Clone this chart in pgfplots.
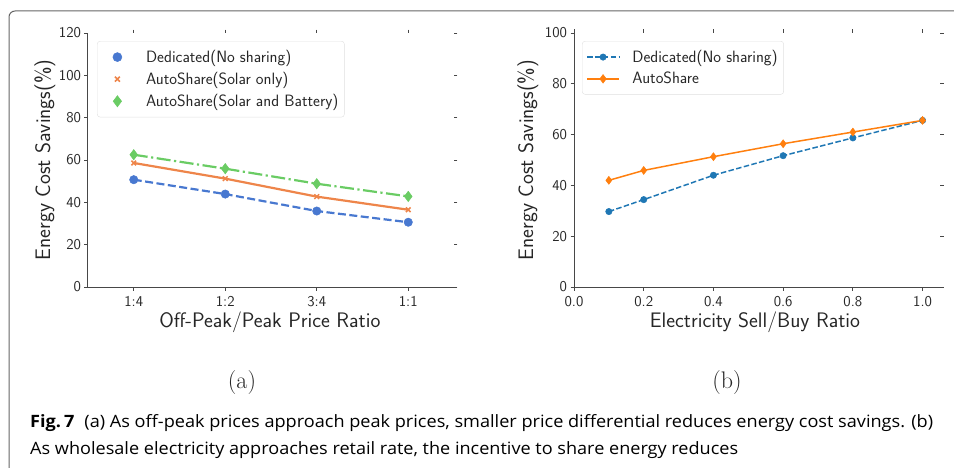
\documentclass[border=0pt]{standalone}
\usepackage{fontspec}
\usepackage{graphicx}
\usepackage{pgfplots}
\pgfplotsset{compat=1.18}
\newfontfamily\capfont{Open Sans}
\definecolor{mblue}{HTML}{4878D0}
\definecolor{morange}{HTML}{EE854A}
\definecolor{mgreen}{HTML}{6ACC64}
\definecolor{tblue}{HTML}{1F77B4}
\definecolor{torange}{HTML}{FF7F0E}
\definecolor{ink}{HTML}{262626}
\newsavebox\capA
\newsavebox\capB
\newcommand\capone{{\bfseries Fig.\,7}\hspace{0.55em}(a) As off-peak prices approach peak prices, smaller price differential reduces energy cost savings. (b)}
\newcommand\captwo{As wholesale electricity approaches retail rate, the incentive to share energy reduces}
\tikzset{lblfont/.style={font=\fontsize{21}{25}\selectfont\sffamily, text=ink}}
\pgfplotsset{
  markleg/.style={legend image code/.code={\draw[mark repeat=2, mark phase=2, ##1, #1] plot coordinates {(0pt,0pt) (16pt,0pt) (32pt,0pt)};}},
  mystyle/.style={
    scale only axis, width=366pt, height=254pt, anchor=south west,
    axis line style={draw=none},
    tick align=outside, major tick length=3.5pt,
    every tick/.style={ink!85, line width=0.8pt},
    xtick pos=both, ytick pos=both,
    xticklabel pos=lower, yticklabel pos=left,
    tick label style={font=\fontsize{15}{18}\selectfont\sffamily, text=ink},
    xticklabel style={yshift=-2pt},
    /pgf/number format/assume math mode=true,
    legend cell align=left,
    legend style={draw=black!12, rounded corners=3pt, fill=white,
      font=\fontsize{16.4}{19}\selectfont\sffamily, text=ink, anchor=north west,
      row sep=5.3pt, inner ysep=7.5pt, inner xsep=4pt, nodes={inner ysep=1.5pt},
      /tikz/every odd column/.append style={column sep=10.5pt}},
    extra description/.code={\draw[ink!85, line width=1pt] (rel axis cs:0,1) -- (rel axis cs:0,0) -- (rel axis cs:1,0);},
  }
}
\begin{document}%
\sbox\capA{\capfont\fontsize{17}{20}\selectfont\capone}%
\sbox\capB{\capfont\fontsize{17}{20}\selectfont\captwo}%
\begin{tikzpicture}[x=1pt,y=1pt]
\useasboundingbox (0,0) rectangle (954,467);
\draw[black!60, line width=1pt, rounded corners=6pt] (9,-10) -- (9,456) -- (980,456);

% (a)
\begin{axis}[mystyle, at={(88pt,180pt)},
  xmin=-0.5, xmax=3.5, ymin=0, ymax=120,
  xtick={0,1,2,3}, xticklabels={1:4,1:2,3:4,1:1},
  ytick={0,20,40,60,80,100,120},
  xlabel={Off-Peak/Peak Price Ratio},
  ylabel={Energy Cost Savings(\%)},
  every axis x label/.style={at={(axis description cs:0.497,-0.138)}, anchor=center, lblfont},
  every axis y label/.style={at={(axis description cs:-0.1175,0.5)}, rotate=90, anchor=center, lblfont},
  legend style={at={(axis description cs:0.0246,0.9685)}},
]
\addplot[mblue, line width=2.2pt, dash pattern=on 8pt off 3.5pt, mark=*, mark size=4.2pt, mark options={solid, line width=0.5pt}, forget plot]
  coordinates {(0,50.7) (1,43.9) (2,35.9) (3,30.6)};
\addplot[morange, line width=2.2pt, mark=x, mark size=3.3pt, mark options={solid, line width=1.5pt}, forget plot]
  coordinates {(0,58.6) (1,51.2) (2,42.7) (3,36.5)};
\addplot[mgreen, line width=2.2pt, dash pattern=on 14pt off 3.5pt on 2.2pt off 3.5pt, mark=diamond*, mark size=5.2pt, mark options={solid, line width=0.5pt}, forget plot]
  coordinates {(0,62.5) (1,55.9) (2,48.8) (3,42.8)};
\addlegendimage{mblue, markleg={mblue, mark=*, mark size=4.5pt, draw opacity=0, mark options={draw opacity=1, line width=0.5pt}}}
\addlegendentry{Dedicated(No sharing)}
\addlegendimage{morange, markleg={morange, mark=x, mark size=3.5pt, draw opacity=0, mark options={draw opacity=1, line width=1.6pt}}}
\addlegendentry{AutoShare(Solar only)}
\addlegendimage{mgreen, markleg={mgreen, mark=diamond*, mark size=5.6pt, draw opacity=0, mark options={draw opacity=1, line width=0.5pt}}}
\addlegendentry{AutoShare(Solar and Battery)}
\end{axis}

% (b)
\begin{axis}[mystyle, at={(574pt,180pt)},
  xmin=0, xmax=1.05, ymin=0, ymax=100,
  xtick={0,0.2,0.4,0.6,0.8,1},
  ytick={0,20,40,60,80,100},
  xticklabel style={/pgf/number format/.cd, fixed, fixed zerofill, precision=1},
  xlabel={Electricity Sell/Buy Ratio},
  ylabel={Energy Cost Savings(\%)},
  every axis x label/.style={at={(axis description cs:0.4945,-0.138)}, anchor=center, lblfont},
  every axis y label/.style={at={(axis description cs:-0.1257,0.5)}, rotate=90, anchor=center, lblfont},
  legend style={at={(axis description cs:0.0219,0.9685)}},
]
\addplot[tblue, line width=1.5pt, dash pattern=on 5.5pt off 2.4pt, mark=*, mark size=3.2pt, mark options={solid, line width=0.5pt},
  markleg={tblue, line width=1.5pt, dash pattern=on 5.5pt off 2.4pt, mark=*, mark size=3.2pt, mark options={solid, line width=0.5pt}}]
  coordinates {(0.1,29.7) (0.2,34.4) (0.4,44.0) (0.6,51.7) (0.8,58.7) (1.0,65.6)};
\addlegendentry{Dedicated(No sharing)}
\addplot[torange, line width=1.5pt, mark=diamond*, mark size=4pt, mark options={solid, line width=0.5pt},
  markleg={torange, line width=1.7pt, solid, mark=diamond*, mark size=4.3pt, mark options={solid, line width=0.5pt}}]
  coordinates {(0.1,42.0) (0.2,45.9) (0.4,51.3) (0.6,56.4) (0.8,61.0) (1.0,65.6)};
\addlegendentry{AutoShare}
\end{axis}

\node[font=\fontsize{24}{28}\selectfont\rmfamily, text=ink] at (242,84) {(a)};
\node[font=\fontsize{24}{28}\selectfont\rmfamily, text=ink] at (727,84) {(b)};

\node[anchor=base west, inner sep=0, text=black!90] at (30,40) {\resizebox{903pt}{\height}{\usebox\capA}};
\node[anchor=base west, inner sep=0, text=black!90] at (30,13) {\resizebox{708pt}{\height}{\usebox\capB}};
\end{tikzpicture}%
\end{document}
